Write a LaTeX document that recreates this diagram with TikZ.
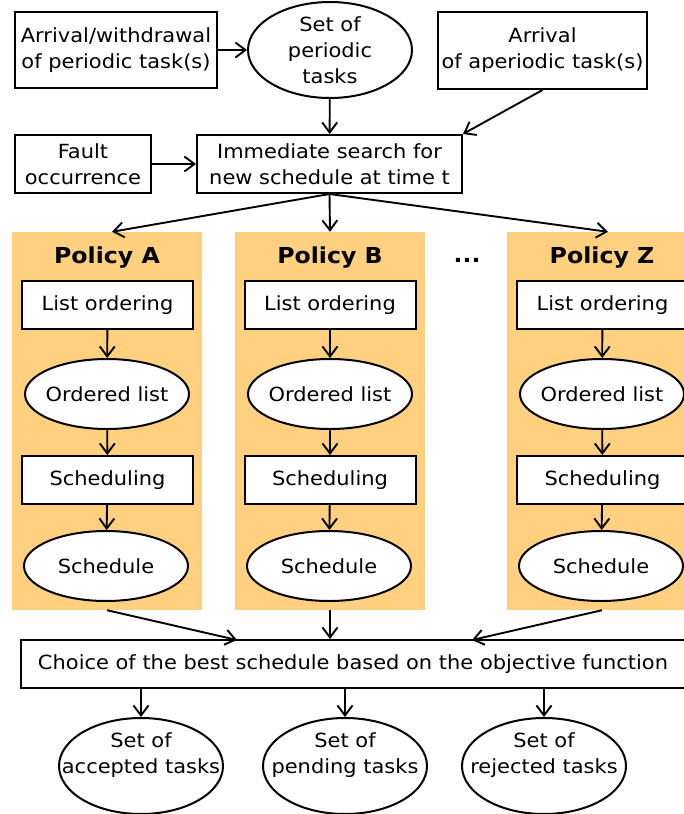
\documentclass[tikz,border=0pt]{standalone}
\usepackage{fontspec}
\setmainfont[FakeStretch=1.075]{DejaVu Sans}
\usetikzlibrary{positioning,shapes.geometric,arrows.meta}

\begin{document}
\begin{tikzpicture}[x=1pt,y=-1pt,
    every node/.style={font=\fontsize{19.5}{26}\selectfont,align=center},
    box/.style={draw,line width=2pt,fill=white,inner sep=0pt},
    oval/.style={draw,ellipse,line width=2pt,fill=white,inner ysep=0pt,inner xsep=-40pt,minimum width=164pt},
    panel/.style={fill=policy,minimum width=190pt,minimum height=378pt,inner sep=0pt},
    title/.style={font=\fontsize{22}{26}\selectfont\bfseries},
    link/.style={line width=1.9pt,-{Straight Barb[length=10pt,width=15pt,line width=1.9pt]}}]
    \definecolor{policy}{HTML}{FFD07F}
    \useasboundingbox (0,0) rectangle (683,814);

    % inputs
    \node[box,minimum width=202pt,minimum height=76pt] (arrival) at (116,50) {Arrival/withdrawal\\of periodic task(s)};
    \node[oval,minimum height=96pt] (periodic) at (330,50) {Set of\\periodic\\tasks};
    \node[box,minimum width=209pt,minimum height=77pt] (aperiodic) at (542.5,50.5) {Arrival\\of aperiodic task(s)};
    \node[box,minimum width=136pt,minimum height=58pt] (fault) at (83,164) {Fault\\occurrence};
    \node[box,minimum width=265pt,minimum height=58pt] (search) at (329.5,164) {Immediate search for\\new schedule at time t};

    % policies
    \node[panel] (polA) at (107,421) {};
    \node[panel] (polB) at (330,421) {};
    \node[panel] (polZ) at (602,421) {};
    \node[title] (titleA) at (107,258) {Policy A};
    \node[title] (titleB) at (330,258) {Policy B};
    \node[title] (titleZ) at (602,258) {Policy Z};
    \node[title] (dots) at (467,260) {...};

    \node[box,minimum width=171pt,minimum height=48pt] (listA) at (107.5,305) {List ordering};
    \node[oval,minimum height=70pt] (ordA) at (107,394) {Ordered list};
    \node[box,minimum width=171pt,minimum height=48pt] (schedA) at (107.5,480) {Scheduling};
    \node[oval,minimum height=70pt] (resA) at (106,566) {Schedule};

    \node[box,minimum width=171pt,minimum height=48pt] (listB) at (330,305) {List ordering};
    \node[oval,minimum height=70pt] (ordB) at (330,394) {Ordered list};
    \node[box,minimum width=171pt,minimum height=48pt] (schedB) at (330,480) {Scheduling};
    \node[oval,minimum height=70pt] (resB) at (329,566) {Schedule};

    \node[box,minimum width=171pt,minimum height=48pt] (listZ) at (602.5,305) {List ordering};
    \node[oval,minimum height=70pt] (ordZ) at (602,394) {Ordered list};
    \node[box,minimum width=171pt,minimum height=48pt] (schedZ) at (602.5,480) {Scheduling};
    \node[oval,minimum height=70pt] (resZ) at (601,566) {Schedule};

    % outputs
    \node[box,minimum width=664pt,minimum height=48pt] (choice) at (353,664) {Choice of the best schedule based on the objective function};
    \node[oval,minimum height=96pt] (accepted) at (141,766) {Set of\\accepted tasks\\\mbox{}};
    \node[oval,minimum height=96pt] (pending) at (345,766) {Set of\\pending tasks\\\mbox{}};
    \node[oval,minimum height=96pt] (rejected) at (544,766) {Set of\\rejected tasks\\\mbox{}};
    \coordinate (inA) at (237,640);
    \coordinate (inZ) at (472,640);

    \draw[link] (arrival) -- (periodic);
    \draw[link] (periodic) -- (search);
    \draw[link] (aperiodic.south) -- (search.north east);
    \draw[link] (fault) -- (search);
    \draw[link] (search.south) -- ([xshift=5pt]polA.north);
    \draw[link] (search.south) -- (polB.north);
    \draw[link] (search.south) -- ([xshift=6pt]polZ.north);
    \draw[link] (listA) -- (ordA);
    \draw[link] (ordA) -- (schedA);
    \draw[link] (schedA) -- (resA);
    \draw[link] (listB) -- (ordB);
    \draw[link] (ordB) -- (schedB);
    \draw[link] (schedB) -- (resB);
    \draw[link] (listZ) -- (ordZ);
    \draw[link] (ordZ) -- (schedZ);
    \draw[link] (schedZ) -- (resZ);
    \draw[link] (polA.south) -- (inA);
    \draw[link] (polB.south) -- (polB.south |- choice.north);
    \draw[link] (polZ.south) -- (inZ);
    \draw[link] (accepted.north |- choice.south) -- (accepted);
    \draw[link] (pending.north |- choice.south) -- (pending);
    \draw[link] (rejected.north |- choice.south) -- (rejected);
\end{tikzpicture}
\end{document}
